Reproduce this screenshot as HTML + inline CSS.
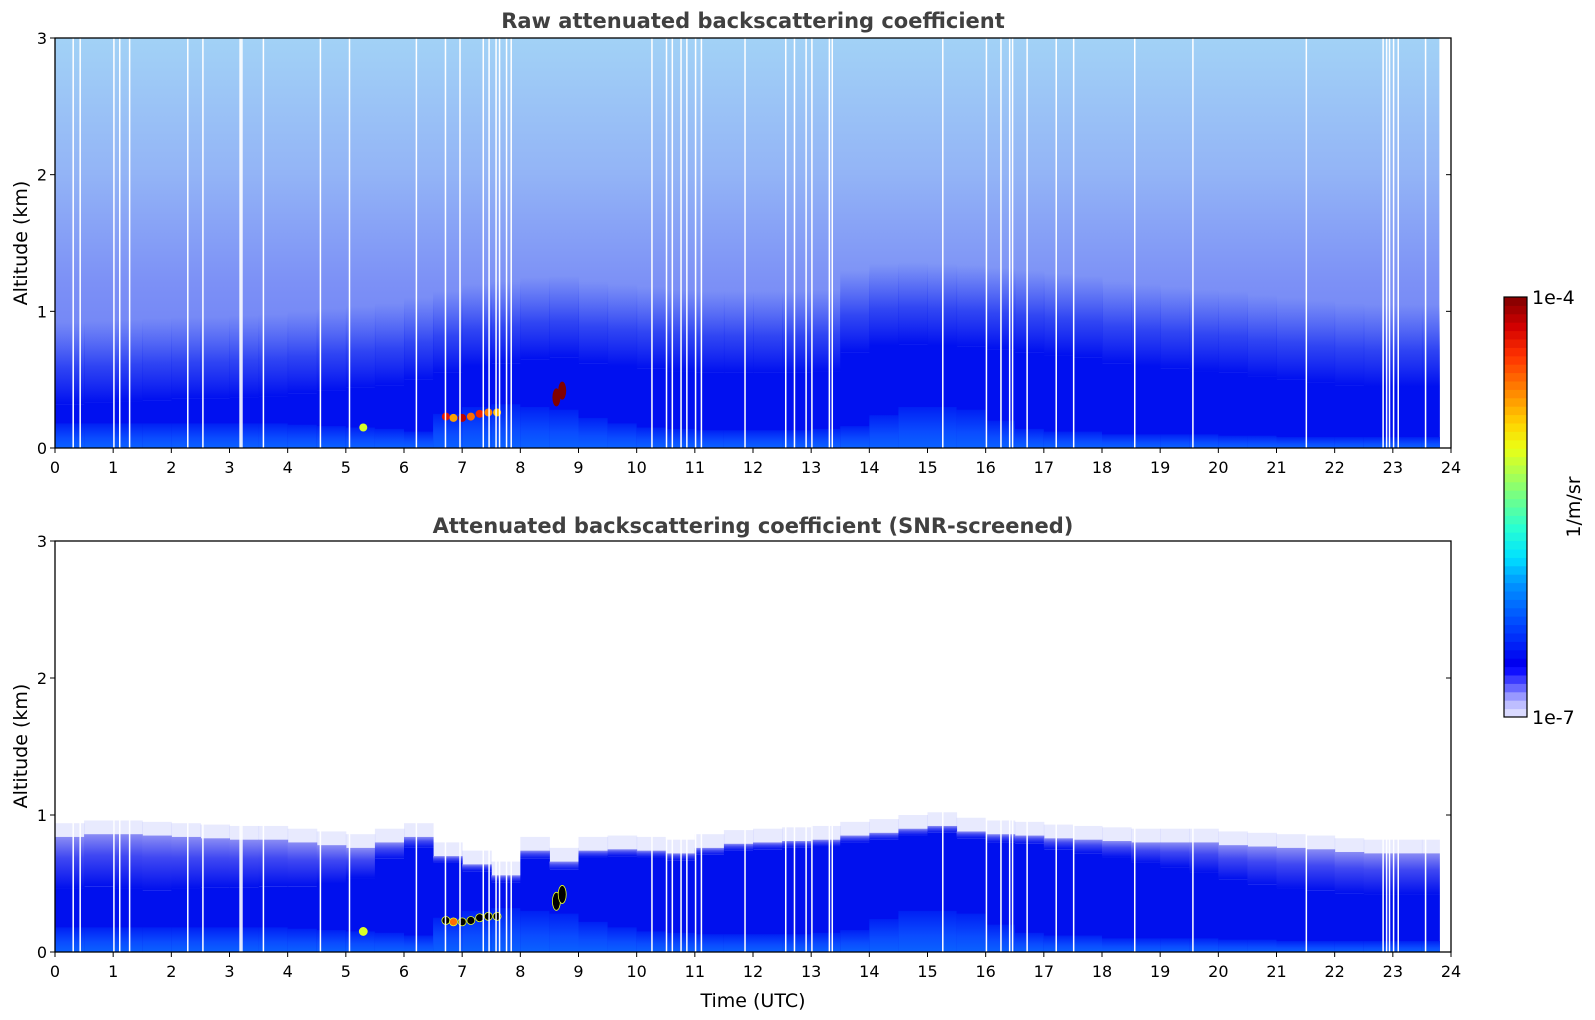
<!DOCTYPE html>
<html><head><meta charset="utf-8"><style>
html,body{margin:0;padding:0;background:#fff;}
svg{display:block;font-family:"DejaVu Sans","Liberation Sans",sans-serif;}
</style></head><body>
<svg id="fig" width="1595" height="1020" viewBox="0 0 1595 1020" xmlns="http://www.w3.org/2000/svg">
<defs>
<linearGradient id="upperGrad" gradientUnits="userSpaceOnUse" x1="0" y1="38" x2="0" y2="448">
<stop offset="0" stop-color="#a2d2f6"/><stop offset="0.33" stop-color="#93b4f6"/><stop offset="0.6" stop-color="#7c90f6"/><stop offset="1" stop-color="#6070f7"/>
</linearGradient>
<linearGradient id="fadeTop" x1="0" y1="1" x2="0" y2="0">
<stop offset="0" stop-color="#0010f0" stop-opacity="1"/><stop offset="0.45" stop-color="#1a30f2" stop-opacity="0.75"/><stop offset="1" stop-color="#3048f5" stop-opacity="0"/>
</linearGradient>
<linearGradient id="fadeBot" x1="0" y1="1" x2="0" y2="0">
<stop offset="0" stop-color="#0010ee"/><stop offset="0.6" stop-color="#4048f2"/><stop offset="1" stop-color="#8a8cf4"/>
</linearGradient>
<linearGradient id="surfGrad" x1="0" y1="1" x2="0" y2="0">
<stop offset="0" stop-color="#0a62ff"/><stop offset="0.4" stop-color="#0a4cff"/><stop offset="1" stop-color="#0020f4"/>
</linearGradient>
<clipPath id="clipTop"><rect x="55" y="38" width="1396" height="410"/></clipPath>
<clipPath id="clipBot"><rect x="55" y="541" width="1396" height="411"/></clipPath>
</defs>
<g id="topData" clip-path="url(#clipTop)"></g>
<g id="botData" clip-path="url(#clipBot)"></g>
<g id="axes"></g>
<text x="753" y="28" text-anchor="middle" font-size="21" font-weight="bold" fill="#404040">Raw attenuated backscattering coefficient</text>
<text x="753" y="533" text-anchor="middle" font-size="21" font-weight="bold" fill="#404040">Attenuated backscattering coefficient (SNR-screened)</text>
<text transform="translate(27,243) rotate(-90)" text-anchor="middle" font-size="19" fill="#000">Altitude (km)</text>
<text transform="translate(27,746) rotate(-90)" text-anchor="middle" font-size="19" fill="#000">Altitude (km)</text>
<text x="753" y="1007" text-anchor="middle" font-size="19" fill="#000">Time (UTC)</text>
<g id="cbar"></g>
<text x="1532" y="304" font-size="19" fill="#000">1e-4</text>
<text x="1532" y="724" font-size="19" fill="#000">1e-7</text>
<text transform="translate(1580,507) rotate(-90)" text-anchor="middle" font-size="19" fill="#000">1/m/sr</text>
</svg>
<script>
// half-hour sample times
const times = [0,0.5,1,1.5,2,2.5,3,3.5,4,4.5,5,5.5,6,6.5,7,7.5,8,8.5,9,9.5,10,10.5,11,11.5,12,12.5,13,13.5,14,14.5,15,15.5,16,16.5,17,17.5,18,18.5,19,19.5,20,20.5,21,21.5,22,22.5,23,23.5];
const dataEnd = 23.8;
// raw panel: top of dense layer (km)
const rawDenseTop = [0.32,0.33,0.34,0.35,0.36,0.36,0.37,0.38,0.4,0.42,0.44,0.46,0.5,0.55,0.6,0.62,0.65,0.66,0.62,0.6,0.58,0.56,0.55,0.55,0.55,0.55,0.56,0.7,0.75,0.76,0.75,0.74,0.72,0.7,0.68,0.66,0.62,0.6,0.58,0.56,0.55,0.52,0.5,0.48,0.46,0.45,0.45,0.45];
// surface (light blue) layer top (km), both panels
const surfTop = [0.18,0.18,0.18,0.18,0.18,0.18,0.18,0.18,0.17,0.16,0.15,0.14,0.12,0.25,0.3,0.32,0.3,0.28,0.22,0.18,0.15,0.14,0.13,0.13,0.13,0.13,0.14,0.16,0.24,0.3,0.3,0.28,0.2,0.14,0.12,0.12,0.1,0.1,0.1,0.1,0.09,0.09,0.08,0.08,0.08,0.08,0.08,0.08];
// screened panel: signal top (km) and faded depth below it (km)
const scrTop = [0.84,0.86,0.86,0.85,0.84,0.83,0.82,0.82,0.8,0.78,0.76,0.8,0.84,0.7,0.64,0.56,0.74,0.66,0.74,0.75,0.74,0.72,0.76,0.79,0.8,0.81,0.82,0.85,0.87,0.9,0.92,0.88,0.86,0.85,0.83,0.82,0.81,0.8,0.8,0.8,0.78,0.77,0.76,0.75,0.73,0.72,0.72,0.72];
const scrFade = [0.38,0.38,0.4,0.4,0.38,0.36,0.35,0.34,0.32,0.28,0.22,0.12,0.08,0.05,0.05,0.05,0.06,0.06,0.05,0.05,0.05,0.05,0.05,0.05,0.05,0.05,0.05,0.05,0.05,0.05,0.05,0.05,0.06,0.06,0.08,0.1,0.12,0.15,0.18,0.22,0.25,0.28,0.3,0.3,0.3,0.3,0.3,0.3];
// missing-data gaps (hours)
const gapTimes = [0.3,0.42,1.0,1.1,1.27,2.27,2.53,3.17,3.2,3.57,4.55,5.05,6.2,6.7,6.95,7.35,7.45,7.57,7.63,7.75,7.83,10.25,10.5,10.6,10.75,10.85,11.0,11.1,11.85,12.55,12.7,12.9,13.0,13.3,13.35,15.25,16.0,16.25,16.4,16.45,16.7,17.2,17.5,18.55,19.55,21.5,22.82,22.88,22.93,23.0,23.08,23.55];
// aerosol hot spots
const hotTimes = [5.3,6.72,6.85,7.0,7.15,7.3,7.45,7.6,8.62,8.72];
const hotAlts = [0.15,0.23,0.22,0.22,0.23,0.25,0.26,0.26,0.37,0.42];
const hotRaw = [0.62,0.9,0.75,0.95,0.8,0.88,0.78,0.72,1.0,1.0];
const hotScr = [0.62,1.2,0.8,1.2,1.1,1.2,1.2,1.1,1.2,1.2];
// axis ticks
const xTicks = [0,1,2,3,4,5,6,7,8,9,10,11,12,13,14,15,16,17,18,19,20,21,22,23,24];
const yTicks = [0,1,2,3];

const NS = "http://www.w3.org/2000/svg";
const X0 = 55, X1 = 1451;
function xs(t){ return X0 + t * (X1 - X0) / 24; }
const panels = [{y0:448,y1:38},{y0:952,y1:541}];
function ys(p,a){ return panels[p].y0 - a * (panels[p].y0 - panels[p].y1) / 3; }
function mk(tag, attrs, parent){ const e=document.createElementNS(NS,tag); for(const k in attrs) e.setAttribute(k,attrs[k]); parent.appendChild(e); return e; }
const cstops = [[0,[232,232,255]],[0.04,[176,176,255]],[0.08,[80,80,255]],[0.11,[16,16,255]],[0.13,[0,0,240]],[0.22,[0,70,255]],[0.32,[0,150,255]],[0.38,[0,225,255]],[0.45,[40,255,210]],[0.55,[140,255,110]],[0.64,[235,255,20]],[0.7,[255,210,0]],[0.78,[255,130,0]],[0.86,[255,50,0]],[0.93,[210,0,0]],[1,[128,0,0]]];
function cmap(v){
  if(v>1) return "#000000";
  for(let i=1;i<cstops.length;i++){ if(v<=cstops[i][0]){ const a=cstops[i-1],b=cstops[i],f=(v-a[0])/(b[0]-a[0]); const c=a[1].map((q,j)=>Math.round(q+(b[1][j]-q)*f)); return "rgb("+c.join(",")+")"; } }
  return "rgb(128,0,0)";
}
function tEnd(i){ return i+1<times.length ? times[i+1] : dataEnd; }

// ---- top panel
const gT = document.getElementById("topData");
let bg = mk("rect",{x:xs(0),y:ys(0,3),width:xs(dataEnd)-xs(0),height:ys(0,0)-ys(0,3),fill:"url(#upperGrad)"},gT);


times.forEach((t,i)=>{
  const xa=xs(t), w=xs(tEnd(i))-xa+0.5;
  const d=rawDenseTop[i];
  let f = mk("rect",{x:xa,y:ys(0,d+0.6),width:w,height:ys(0,d)-ys(0,d+0.6),fill:"url(#fadeTop)"},gT);
  
  
  let r = mk("rect",{x:xa,y:ys(0,d),width:w,height:ys(0,0)-ys(0,d),fill:"#0010f0"},gT);
  
  
  let s = mk("rect",{x:xa,y:ys(0,surfTop[i]),width:w,height:ys(0,0)-ys(0,surfTop[i]),fill:"url(#surfGrad)"},gT);
  
  
});
hotTimes.forEach((t,i)=>{
  let e = mk("ellipse",{cx:xs(t),cy:ys(0,hotAlts[i]),rx:4,ry:i>=8?9:4,fill:cmap(hotRaw[i])},gT);
  
  
});
// ---- bottom panel
const gB = document.getElementById("botData");
times.forEach((t,i)=>{
  const xa=xs(t), w=xs(tEnd(i))-xa+0.5;
  const top=scrTop[i], fd=scrFade[i];
  let sp = mk("rect",{x:xa,y:ys(1,top+0.1),width:w,height:ys(1,top)-ys(1,top+0.1),fill:"#2030f5","fill-opacity":0.1},gB);
  
  
  let f = mk("rect",{x:xa,y:ys(1,top),width:w,height:ys(1,top-fd)-ys(1,top),fill:"url(#fadeBot)"},gB);
  
  
  let r = mk("rect",{x:xa,y:ys(1,top-fd),width:w,height:ys(1,0)-ys(1,top-fd),fill:"#0010ee"},gB);
  
  
  let s = mk("rect",{x:xa,y:ys(1,surfTop[i]),width:w,height:ys(1,0)-ys(1,surfTop[i]),fill:"url(#surfGrad)"},gB);
  
  
});
hotTimes.forEach((t,i)=>{
  let e = mk("ellipse",{cx:xs(t),cy:ys(1,hotAlts[i]),rx:4,ry:i>=8?9:4,fill:cmap(hotScr[i]),stroke:"#e8ff20","stroke-width":0.8}, gB);
  
  
});
// gaps
[gT,gB].forEach((g,p)=>{
  gapTimes.forEach(t=>{
    let l = mk("rect",{x:xs(t),y:p===0?ys(0,3):ys(1,1.3),width:1.5,height:p===0?410:ys(1,0)-ys(1,1.3),fill:"#ffffff"},g);
    
    
  });
});
// ---- axes
const gA = document.getElementById("axes");
panels.forEach((P,p)=>{
  let fr = mk("rect",{x:X0,y:P.y1,width:X1-X0,height:P.y0-P.y1,fill:"none",stroke:"#000","stroke-width":1.3},gA);
  
  
  xTicks.forEach(v=>{
    mk("line",{x1:xs(v),x2:xs(v),y1:P.y0,y2:P.y0+5,stroke:"#000","stroke-width":1},gA);
    let tx = mk("text",{x:xs(v),y:P.y0+25,"text-anchor":"middle","font-size":16,fill:"#000"},gA);
    tx.textContent = v;
    
    
  });
  yTicks.forEach(v=>{
    mk("line",{x1:X0-5,x2:X0,y1:ys(p,v),y2:ys(p,v),stroke:"#000","stroke-width":1},gA);
    mk("line",{x1:X1-5,x2:X1,y1:ys(p,v),y2:ys(p,v),stroke:"#000","stroke-width":1},gA);
    let tx = mk("text",{x:X0-8,y:ys(p,v)+6,"text-anchor":"end","font-size":16,fill:"#000"},gA);
    tx.textContent = v;
    
    
  });
});
// ---- colorbar
const gC = document.getElementById("cbar");
const N = 50, cy0 = 717, cy1 = 297;
for(let k=0;k<N;k++){
  const h=(cy0-cy1)/N;
  let r = mk("rect",{x:1504,y:cy0-(k+1)*h,width:23,height:h+0.5,fill:cmap((k+0.5)/N)},gC);
  
  
}
mk("rect",{x:1504,y:cy1,width:23,height:cy0-cy1,fill:"none",stroke:"#000","stroke-width":1.2},gC);
</script>
</body></html>
